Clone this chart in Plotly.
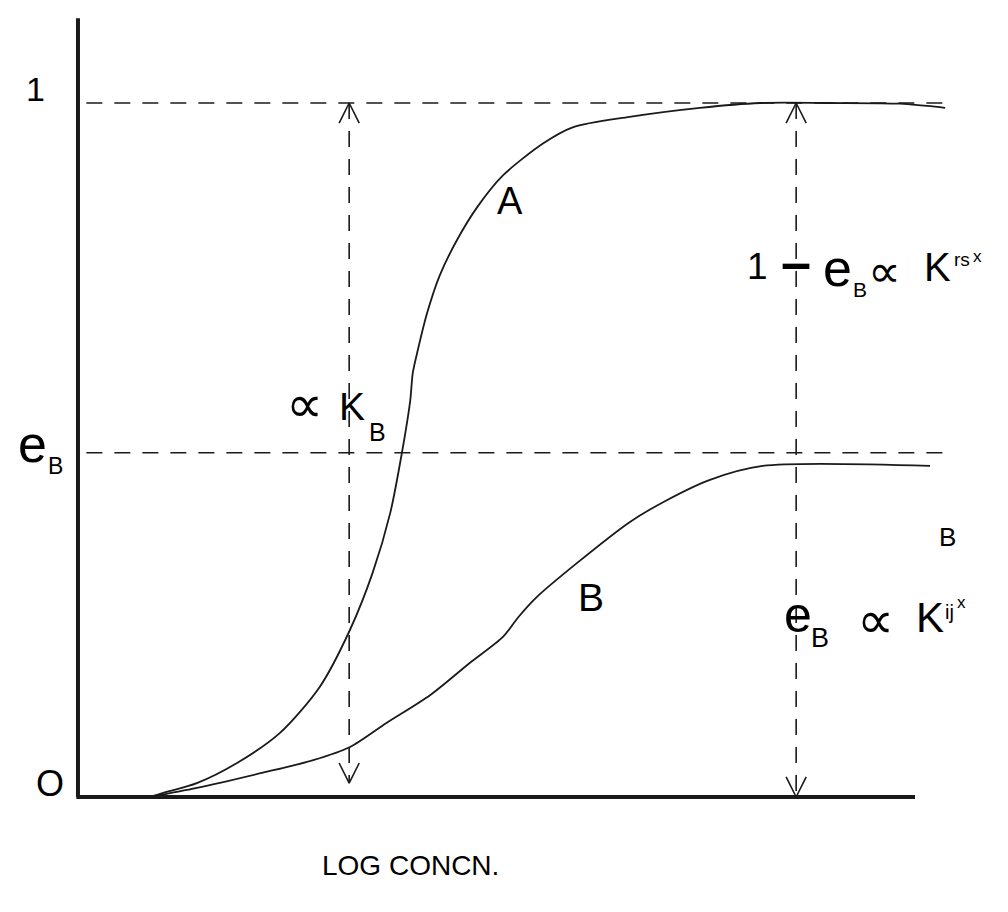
import plotly.graph_objects as go

# curve A: response vs log concentration (y as fraction of maximum)
a_x = [0.86, 1.02, 1.42, 1.90, 2.41, 2.89, 3.25, 3.52, 3.73, 3.87, 3.97, 4.00, 4.06,
       4.17, 4.32, 4.53, 4.77, 5.08, 5.56, 5.91, 6.59, 7.43, 8.15, 8.98, 9.82, 10.36]
a_y = [0.000, 0.006, 0.020, 0.049, 0.092, 0.159, 0.241, 0.323, 0.409, 0.496, 0.572, 0.611, 0.644,
       0.697, 0.751, 0.803, 0.850, 0.896, 0.942, 0.965, 0.980, 0.993, 1.000, 1.000, 0.999, 0.993]

# curve B
b_x = [0.86, 1.42, 2.21, 2.81, 3.25, 3.69, 4.21, 4.68, 5.08, 5.26, 5.48, 5.96,
       6.59, 7.04, 7.55, 8.18, 10.18]
b_y = [0.000, 0.013, 0.035, 0.053, 0.072, 0.107, 0.147, 0.193, 0.231, 0.259, 0.288, 0.337,
       0.396, 0.428, 0.457, 0.477, 0.477]

# reference levels
level_one = 1.0
level_eb = 0.496
dash_x = [0.10, 10.38]

# vertical arrows: x, top, bottom
arrow_x = [3.24, 8.58]
arrow_top = [1.0, 1.0]
arrow_bot = [0.020, 0.0]

# axes extent
axis_x_end = 10.0
axis_y_end = 1.122

ink = '#1a1a1a'
font = 'Liberation Sans, Arial, sans-serif'
sym_font = 'DejaVu Sans, sans-serif'

fig = go.Figure()

# curves
curve_line = dict(color=ink, width=1.8, shape='spline', smoothing=0.8)
fig.add_trace(go.Scatter(x=a_x, y=a_y, mode='lines', line=curve_line, showlegend=False, hoverinfo='skip'))
fig.add_trace(go.Scatter(x=b_x, y=b_y, mode='lines', line=curve_line, showlegend=False, hoverinfo='skip'))

# dashed horizontal levels
for lvl in [level_one, level_eb]:
    fig.add_trace(go.Scatter(x=dash_x, y=[lvl, lvl], mode='lines', line=dict(color=ink, width=1.6, dash='16px,12px'), showlegend=False, hoverinfo='skip'))

# dashed vertical arrows with open heads
hx = 0.12  # half width of arrow head (x units)
hy = 0.029  # length of arrow head (y units)
for xv, yt, yb in zip(arrow_x, arrow_top, arrow_bot):
    fig.add_trace(go.Scatter(x=[xv, xv], y=[yt, yb], mode='lines', line=dict(color=ink, width=1.6, dash='16px,12px'), showlegend=False, hoverinfo='skip'))
    fig.add_trace(go.Scatter(x=[xv - hx, xv, xv + hx], y=[yt - hy, yt, yt - hy], mode='lines', line=dict(color=ink, width=1.6), showlegend=False, hoverinfo='skip'))
    fig.add_trace(go.Scatter(x=[xv - hx, xv, xv + hx], y=[yb + hy, yb, yb + hy], mode='lines', line=dict(color=ink, width=1.6), showlegend=False, hoverinfo='skip'))

# axes drawn as thick lines
fig.add_trace(go.Scatter(x=[0, 0], y=[axis_y_end, 0], mode='lines', line=dict(color=ink, width=4), showlegend=False, hoverinfo='skip'))
fig.add_trace(go.Scatter(x=[-0.02, axis_x_end], y=[0, 0], mode='lines', line=dict(color=ink, width=4), showlegend=False, hoverinfo='skip'))

# labels: (text, x, y, size, family)
labels = [
    ('1', -0.51, 1.020, 34, font),
    ('O', -0.33, 0.020, 36, font),
    ('e', -0.54, 0.509, 52, font),
    ('B', -0.27, 0.477, 23, font),
    ('\u221d', 2.71, 0.566, 52, sym_font),
    ('K', 3.27, 0.563, 39, font),
    ('B', 3.58, 0.526, 25, font),
    ('A', 5.16, 0.859, 38, font),
    ('B', 6.13, 0.287, 39, font),
    ('1', 8.12, 0.765, 37, font),
    ('<b>\u2013</b>', 8.58, 0.771, 54, font),
    ('e', 9.07, 0.762, 52, font),
    ('B', 9.34, 0.732, 21, font),
    ('\u221d', 9.64, 0.758, 46, sym_font),
    ('K', 10.27, 0.764, 40, font),
    ('rs', 10.56, 0.774, 19, font),
    ('x', 10.75, 0.779, 17, font),
    ('B', 10.39, 0.375, 26, font),
    ('e', 8.60, 0.262, 50, font),
    ('B', 8.87, 0.229, 27, font),
    ('\u221d', 9.53, 0.255, 52, sym_font),
    ('K', 10.18, 0.258, 42, font),
    ('ij', 10.41, 0.267, 20, font),
    ('x', 10.56, 0.280, 17, font),
    ('LOG CONCN.', 3.97, -0.098, 28, font),
]
for txt, lx, ly, sz, fam in labels:
    fig.add_annotation(x=lx, y=ly, text=txt, showarrow=False, xanchor='center', yanchor='middle',
                       font=dict(family=fam, size=sz, color='#000000'))

# page body has an 8px margin, so the figure is 1000x904 and ranges are set to match
fig.update_layout(
    width=1000, height=904,
    margin=dict(l=0, r=0, t=0, b=0),
    paper_bgcolor='white', plot_bgcolor='white',
    xaxis=dict(range=[-0.836, 11.111], visible=False, fixedrange=True),
    yaxis=dict(range=[-0.1657, 1.1369], visible=False, fixedrange=True),
)

fig.write_html("out.html")
